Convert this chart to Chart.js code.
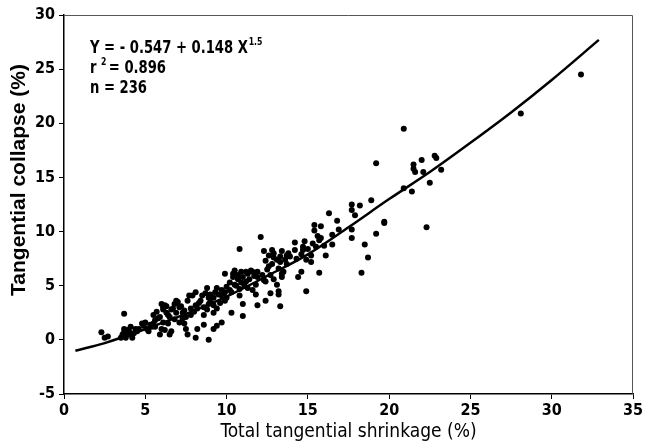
<!DOCTYPE html>
<html>
<head>
<meta charset="utf-8">
<script src="https://cdn.jsdelivr.net/npm/chart.js@4"></script>
<style>
  html, body { margin: 0; padding: 0; background: #fff; }
  #wrap { width: 661px; height: 443px; position: relative; }
</style>
</head>
<body>
<div id="wrap"><canvas id="collapseChart"></canvas></div>
<script>
/* Tangential collapse vs total tangential shrinkage — scatter + fitted curve */

const FONT = "'Liberation Sans Narrow', 'DejaVu Sans Condensed', 'Liberation Sans', sans-serif";

const shrinkage = [
  31.8, 28.1, 20.9, 19.2, 21.5, 21.5, 22.0, 22.8, 22.9, 21.6, 22.1, 22.5, 23.2, 20.9, 21.4, 22.3,
  18.9, 18.2, 17.7, 17.7, 17.9, 19.7, 19.7, 19.2, 17.7, 17.7, 18.5, 18.7, 18.3,
  16.3, 16.8, 16.9, 15.4, 15.4, 15.8, 16.5, 16.5, 15.7, 15.6, 16.1, 15.2, 15.2,
  14.8, 14.7, 14.7, 14.2, 14.2, 14.6, 14.4, 14.9, 15.7,
  13.7, 13.7, 13.4, 13.3, 13.1, 12.8, 12.9, 12.3, 12.1, 12.4, 12.6, 12.7, 12.9, 13.1,
  13.4, 13.4, 13.2, 13.2, 13.3, 12.7, 12.4, 12.4,
  11.9, 11.9, 11.8, 11.6, 11.8, 11.9, 11.5, 11.3, 10.9, 11.0, 11.2, 10.8, 10.5, 10.4,
  10.7, 10.5, 10.8, 11.0, 11.0, 10.3, 10.2, 10.2, 9.9, 10.0, 9.9, 9.7, 9.7,
  9.4, 9.3, 9.2, 9.0, 9.4, 9.2, 9.7, 9.4, 9.2, 8.9, 8.6, 8.8, 8.6, 8.9, 8.8, 8.5, 8.4,
  8.1, 7.9, 8.1, 8.0, 7.8, 8.2, 8.1, 7.6, 7.5, 7.4, 7.5, 7.3, 7.1, 7.0, 7.3, 6.9, 6.8,
  6.6, 6.5, 6.6, 6.5, 6.3, 6.1, 6.0, 6.3, 5.9, 6.1, 6.0, 5.9, 6.4,
  5.6, 5.5, 5.5, 5.4, 5.2, 5.0, 4.9, 5.1, 4.6, 4.5, 4.1, 4.0, 4.0, 4.2,
  3.7, 3.7, 3.6, 3.5, 3.7, 3.8, 2.7, 2.5, 2.3,
  3.9, 4.3, 4.4, 3.8,
  5.3, 5.6, 5.8, 5.7, 4.8,
  6.2, 6.1, 6.4, 6.7, 6.8, 6.9, 6.2,
  7.2, 7.6, 7.8, 7.7, 7.4, 7.1,
  8.3, 8.6, 8.9, 8.7, 8.2, 9.0,
  9.2, 9.5, 9.8, 9.6, 9.9, 10.0,
  10.3, 10.6, 10.9, 10.4, 10.8, 10.7,
  11.1, 11.4, 11.7, 11.3, 11.6, 11.2,
  12.2, 12.5, 12.8, 12.3, 12.9, 12.6,
  13.3, 13.6, 13.9, 13.2, 13.5, 13.8,
  14.3, 14.6, 15.0, 15.3, 15.5, 14.9, 15.8, 16.0
];
const collapse = [
  24.5, 20.9, 19.5, 16.3, 16.2, 15.8, 16.6, 17.0, 16.8, 15.5, 15.5, 14.5, 15.7, 14.0, 13.7, 10.4,
  12.9, 12.4, 12.5, 12.0, 11.5, 10.9, 10.8, 9.8, 10.2, 9.4, 8.8, 7.6, 6.2,
  11.7, 11.0, 10.2, 10.6, 10.1, 10.5, 9.7, 8.8, 9.2, 9.6, 7.8, 7.8, 7.2,
  9.1, 8.6, 8.3, 9.0, 8.3, 6.3, 5.8, 4.5, 6.2,
  7.8, 7.0, 8.2, 7.7, 7.4, 8.3, 8.0, 8.2, 9.5, 7.3, 6.8, 6.0, 5.6, 5.1,
  6.1, 5.8, 4.5, 4.2, 3.1, 4.3, 3.6, 5.4,
  6.3, 5.8, 5.1, 4.6, 4.2, 3.2, 6.4, 6.1, 6.3, 5.8, 5.4, 8.4, 6.4, 6.1,
  5.6, 5.1, 4.1, 3.3, 2.2, 2.5, 5.3, 4.6, 6.1, 3.9, 3.6, 4.6, 4.1,
  4.8, 4.4, 3.9, 3.5, 2.9, 2.5, 1.6, 1.3, 1.0, 0.0, 1.4, 2.8, 2.3, 3.9, 4.8, 4.1, 3.6,
  4.4, 4.1, 3.2, 2.6, 2.3, 1.0, 0.2, 0.5, 1.0, 1.5, 2.1, 2.5, 3.0, 3.5, 2.0, 2.5, 3.3,
  2.8, 2.1, 0.8, 0.5, 2.5, 2.8, 3.3, 3.1, 2.1, 1.6, 1.0, 0.5, 1.5,
  1.8, 1.5, 2.3, 1.2, 0.8, 1.6, 1.3, 1.0, 1.0, 0.8, 1.2, 0.8, 0.5, 0.2,
  1.0, 0.7, 0.5, 0.2, 2.4, 0.2, 0.3, 0.2, 0.7,
  0.9, 0.6, 1.0, 0.4,
  1.4, 1.2, 2.0, 2.6, 1.5,
  3.2, 3.0, 2.3, 2.9, 1.9, 3.6, 0.9,
  3.1, 3.6, 2.9, 4.1, 2.7, 1.6,
  3.4, 3.0, 3.3, 4.3, 2.9, 4.2,
  3.2, 4.2, 3.9, 3.4, 4.4, 4.9,
  4.4, 5.0, 5.3, 5.8, 4.7, 6.0,
  5.0, 5.6, 5.9, 4.8, 6.3, 6.3,
  6.0, 6.5, 7.0, 5.5, 7.6, 7.8,
  7.2, 7.4, 7.7, 6.6, 6.3, 8.0,
  7.5, 7.9, 8.4, 8.9, 8.6, 7.4, 9.4, 8.7
];

// fitted curve
const fitX = [0.7, 2.5, 5, 7.5, 10, 12.5, 15, 17.5, 20, 22.5, 25, 27.5, 30, 32.9];
const fitY = [-1.0, -0.3, 1.0, 2.4, 4.0, 5.9, 7.9, 10.4, 13.0, 15.5, 18.2, 21.0, 24.0, 27.7];

const xTicks = [0, 5, 10, 15, 20, 25, 30, 35];
const yTicks = [-5, 0, 5, 10, 15, 20, 25, 30];

const yTitle = 'Tangential collapse (%)';
const eqText = 'Y = - 0.547 + 0.148 X';

const scatterPts = shrinkage.map((x, i) => ({ x, y: collapse[i] }));
const fitPts = fitX.map((x, i) => ({ x, y: fitY[i] }));

/* Frame on top/right, y title, equation text */
const framePlugin = {
  id: 'frame',
  afterDraw(chart) {
    const { ctx, chartArea: a } = chart;
    ctx.save();
    ctx.strokeStyle = '#555';
    ctx.lineWidth = 1;
    ctx.beginPath();
    ctx.moveTo(a.left, a.top + 0.5);
    ctx.lineTo(a.right - 0.5, a.top + 0.5);
    ctx.lineTo(a.right - 0.5, a.bottom);
    ctx.stroke();

    // rotated y-axis title
    ctx.save();
    ctx.translate(19, 180);
    ctx.rotate(-Math.PI / 2);
    ctx.textAlign = 'center';
    ctx.textBaseline = 'middle';
    ctx.fillStyle = '#000';
    ctx.font = 'bold 21px "Liberation Sans", Arial, sans-serif';
    ctx.fillText(yTitle, 0, 0);
    ctx.restore();

    // regression annotation, condensed
    ctx.save();
    const tx = a.left + 26, ty = a.top + 38;
    ctx.translate(tx, ty);
    ctx.scale(0.86, 1);
    ctx.fillStyle = '#000';
    ctx.textBaseline = 'alphabetic';
    ctx.textAlign = 'left';
    ctx.font = 'bold 17px ' + FONT;
    ctx.fillText(eqText, 0, 0);
    const w0 = ctx.measureText(eqText).width;
    ctx.font = 'bold 10px ' + FONT;
    ctx.fillText('1.5', w0 + 1, -8);

    ctx.font = 'bold 17px ' + FONT;
    ctx.fillText('r', 0, 20);
    const wr = ctx.measureText('r ').width;
    ctx.font = 'bold 10px ' + FONT;
    ctx.fillText('2', wr, 12);
    ctx.font = 'bold 17px ' + FONT;
    ctx.fillText('= 0.896', wr + 9, 20);

    ctx.fillText('n = 236', 0, 40);
    ctx.restore();
    ctx.restore();
  }
};

new Chart(document.getElementById('collapseChart'), {
  type: 'scatter',
  data: {
    datasets: [
      {
        label: 'Observed',
        data: scatterPts,
        pointStyle: 'circle',
        pointRadius: 3,
        pointBackgroundColor: '#000',
        pointBorderWidth: 0,
        order: 2
      },
      {
        label: 'Fit',
        type: 'line',
        data: fitPts,
        borderColor: '#000',
        borderWidth: 2.5,
        pointRadius: 0,
        fill: false,
        cubicInterpolationMode: 'monotone',
        order: 1
      }
    ]
  },
  options: {
    responsive: true,
    maintainAspectRatio: false,
    animation: false,
    layout: { padding: { top: 15, right: 28, left: 0, bottom: 0 } },
    plugins: {
      legend: { display: false },
      tooltip: { enabled: false }
    },
    scales: {
      x: {
        type: 'linear',
        min: 0,
        max: 35,
        afterBuildTicks: s => { s.ticks = xTicks.map(v => ({ value: v })); },
        afterFit: s => { s.height = 49; },
        grid: { drawOnChartArea: false, drawTicks: true, tickLength: 5, color: '#000' },
        border: { display: true, color: '#000', width: 1.5 },
        ticks: {
          color: '#000',
          padding: 2,
          maxRotation: 0,
          font: { family: FONT, size: 16, weight: 'bold' }
        },
        title: {
          display: true,
          text: 'Total tangential shrinkage (%)',
          color: '#000',
          padding: { top: 0, bottom: 0 },
          font: { family: FONT, size: 19 }
        }
      },
      y: {
        type: 'linear',
        min: -5,
        max: 30,
        afterBuildTicks: s => { s.ticks = yTicks.map(v => ({ value: v })); },
        afterFit: s => { s.width = 64; },
        grid: { drawOnChartArea: false, drawTicks: true, tickLength: 5, color: '#000' },
        border: { display: true, color: '#000', width: 1.5 },
        ticks: {
          color: '#000',
          padding: 4,
          font: { family: FONT, size: 16, weight: 'bold' }
        }
      }
    }
  },
  plugins: [framePlugin]
});
</script>
</body>
</html>
